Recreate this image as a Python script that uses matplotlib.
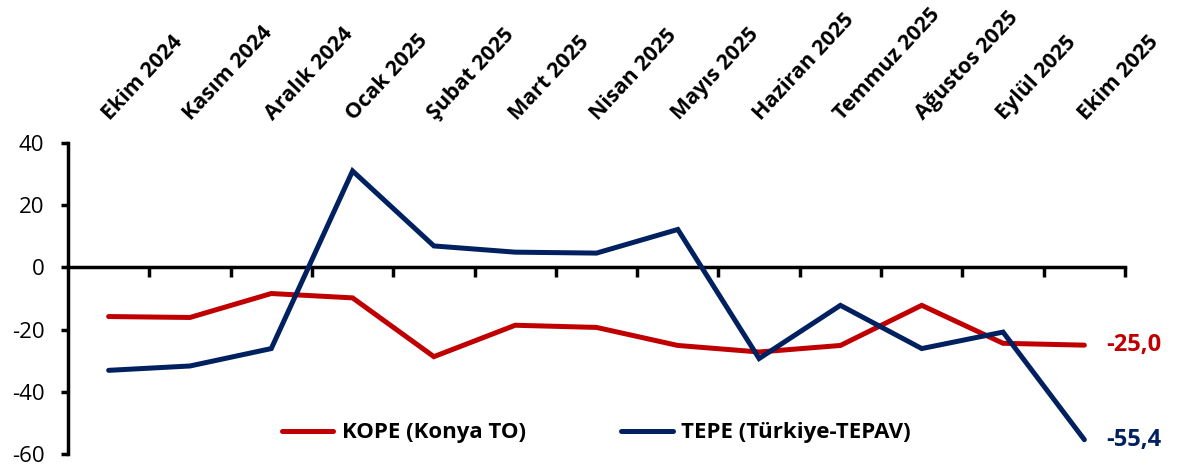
import matplotlib
matplotlib.use("Agg")
import matplotlib.pyplot as plt
from matplotlib.ticker import FixedLocator

months = ["Ekim 2024", "Kasım 2024", "Aralık 2024", "Ocak 2025", "Şubat 2025",
          "Mart 2025", "Nisan 2025", "Mayıs 2025", "Haziran 2025", "Temmuz 2025",
          "Ağustos 2025", "Eylül 2025", "Ekim 2025"]
kope = [-15.8, -16.1, -8.4, -9.8, -28.7, -18.6, -19.3, -25.1, -27.2, -25.1, -12.2, -24.4, -25.0]
tepe = [-33.1, -31.7, -26.1, 31.0, 6.9, 4.9, 4.6, 12.2, -29.3, -12.2, -26.1, -20.8, -55.4]
series_names = ["KOPE (Konya TO)", "TEPE (Türkiye-TEPAV)"]
end_labels = ["-25,0", "-55,4"]
yticks = [40, 20, 0, -20, -40, -60]

RED = "#C00000"
NAVY = "#002060"
plt.rcParams['font.family'] = ['Open Sans', 'DejaVu Sans']

fig = plt.figure(figsize=(11.79, 4.72), dpi=100)
ax = fig.add_axes([68/1179, 1-454/472, (1125-68)/1179, (454-143)/472])

x = list(range(len(months)))
l1, = ax.plot(x, kope, color=RED, lw=3.6, solid_capstyle='round', solid_joinstyle='miter', label=series_names[0])
l2, = ax.plot(x, tepe, color=NAVY, lw=3.6, solid_capstyle='round', solid_joinstyle='miter', label=series_names[1])

ax.set_xlim(-0.5, len(months) - 0.5)
ax.set_ylim(-60, 40)
ax.set_yticks(yticks)
ax.set_yticklabels([str(v) for v in yticks], fontsize=16)
ax.tick_params(axis='y', length=5, width=2.5, direction='out', pad=12)

for s in ['top', 'right']:
    ax.spines[s].set_visible(False)
ax.spines['left'].set_linewidth(2.5)
ax.spines['bottom'].set_position(('data', 0))
ax.spines['bottom'].set_linewidth(2.5)
ax.spines['bottom'].set_zorder(1)
ax.xaxis.set_major_locator(FixedLocator([i + 0.5 for i in range(len(months))]))
ax.set_xticklabels([])
ax.tick_params(axis='x', length=7, width=2.5, direction='out')

for i, m in enumerate(months):
    ax.annotate(m, xy=(i, 1), xycoords=('data', 'axes fraction'),
                xytext=(1, 16), textcoords='offset points', rotation=47,
                rotation_mode='anchor', ha='left', va='baseline',
                fontsize=15.5, fontweight='bold')

ax.annotate(end_labels[0], xy=(x[-1], kope[-1]), xytext=(16, 0), textcoords='offset points',
            ha='left', va='center', color=RED, fontsize=17, fontweight='bold')
ax.annotate(end_labels[1], xy=(x[-1], tepe[-1]), xytext=(16, 0), textcoords='offset points',
            ha='left', va='center', color=NAVY, fontsize=17, fontweight='bold')

leg = ax.legend(handles=[l1, l2], loc='lower center', bbox_to_anchor=(0.5, -0.03), ncol=2,
                frameon=False, prop={'weight': 'bold', 'size': 16}, handlelength=2.3,
                columnspacing=4.3, handletextpad=0.4)

fig.savefig("out.png", dpi=100)
